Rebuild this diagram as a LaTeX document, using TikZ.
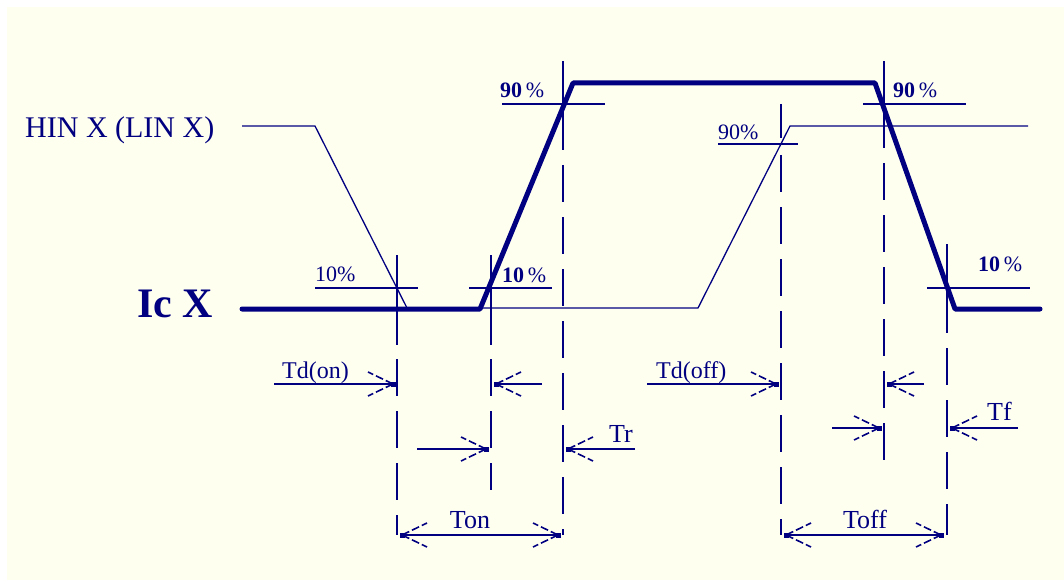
\documentclass[tikz,border=0pt]{standalone}
\usepackage{fontspec}
\setmainfont{Liberation Serif}
\definecolor{ink}{RGB}{0,0,128}
\definecolor{cream}{RGB}{255,255,240}
\newcommand\fsz[1]{\fontsize{#1}{#1}\selectfont}
\begin{document}
\begin{tikzpicture}[x=1pt,y=-1pt,
  wave/.style={draw=ink, line width=5pt, line join=round, line cap=round},
  sig/.style={draw=ink, line width=1.3pt},
  lvl/.style={draw=ink, line width=1.7pt},
  dashv/.style={draw=ink, line width=1.7pt, dash pattern=on 37pt off 15pt},
  dim/.style={draw=ink, line width=1.7pt},
  barbline/.style={draw=ink, line width=1.6pt, dash pattern=on 8pt off 3pt},
  lbl/.style={text=ink, inner sep=0pt, anchor=base west},
  clbl/.style={text=ink, inner sep=0pt, anchor=base},
  barb/.pic={
    \draw[barbline] (0,0) -- (-25,-12);
    \draw[barbline] (0,0) -- (-25,12);
    \fill[ink] (-2.5,-2.5) rectangle (2.5,2.5);
  }]
\useasboundingbox (0,0) rectangle (1064,580);
\fill[white] (0,0) rectangle (1064,580);
\fill[cream] (7,7) rectangle (1064,580);

% ---- input signal HIN X
\coordinate (h0) at (242,126);
\coordinate (h1) at (315,126);
\coordinate (h2) at (407,308);
\coordinate (h3) at (698,308);
\coordinate (h4) at (790,126);
\coordinate (h5) at (1028,126);
\draw[sig] (h0) -- (h1) -- (h2) -- (h3) -- (h4) -- (h5);

% ---- level marks
\draw[lvl] (315,288) -- (418,288);   % 10% of HIN
\draw[lvl] (469,288) -- (552,288);   % 10% rise
\draw[lvl] (502,104) -- (605,104);   % 90% rise
\draw[lvl] (718,144) -- (798,144);   % 90% HIN
\draw[lvl] (863,104) -- (966,104);   % 90% fall
\draw[lvl] (927,288) -- (1030,288);  % 10% fall

% ---- vertical guide lines (solid start, then dashed)
\draw[lvl] (397,255) -- (397,345);  \draw[dashv] (397,359) -- (397,535);
\draw[lvl] (491,255) -- (491,345);  \draw[dashv] (491,359) -- (491,490);
\draw[lvl] (563,61)  -- (563,150);  \draw[dashv] (563,165) -- (563,535);
\draw[lvl] (781,104) -- (781,138);  \draw[dashv] (781,155) -- (781,535);
\draw[lvl] (884,61)  -- (884,148);  \draw[dashv] (884,163) -- (884,460);
\draw[lvl] (947,244) -- (947,333);  \draw[dashv] (947,348) -- (947,535);

% ---- output current Ic X
\coordinate (c0) at (242,309);
\coordinate (c1) at (480,309);
\coordinate (c2) at (573,83);
\coordinate (c3) at (875,83);
\coordinate (c4) at (955,309);
\coordinate (c5) at (1040,309);
\draw[wave] (c0) -- (c1) -- (c2) -- (c3) -- (c4) -- (c5);

% ---- labels
\node[lbl, font=\fsz{30}] (hin) at (25,138) {HIN X (LIN X)};
\node[lbl, font=\fsz{42}\bfseries] (ic) at (137,317) {Ic X};
\node[lbl, font=\fsz{22}] (p10a) at (315,281) {10\%};
\node[lbl, font=\fsz{22}] (p10b) at (502,282) {\textbf{10}\,\%};
\node[lbl, font=\fsz{22}] (p90a) at (500,98) {\textbf{90}\,\%};
\node[lbl, font=\fsz{22}] (p90h) at (718,140) {90\%};
\node[lbl, font=\fsz{22}] (p90b) at (893,98) {\textbf{90}\,\%};
\node[lbl, font=\fsz{22}] (p10c) at (978,271) {\textbf{10}\,\%};

\node[lbl, font=\fsz{24}] (tdon) at (282,378) {Td(on)};
\node[lbl, font=\fsz{24}] (tdoff) at (656,378) {Td(off)};
\node[lbl, font=\fsz{26}] (tr) at (609,442) {Tr};
\node[lbl, font=\fsz{26}] (tf) at (987,420) {Tf};
\node[clbl, font=\fsz{26}] (ton) at (470,528) {Ton};
\node[clbl, font=\fsz{26}] (toff) at (865,528) {Toff};

% ---- dimension arrows
\coordinate (a1s) at (274,384); \coordinate (a1t) at (393,384);
\draw[dim] (a1s) -- (a1t); \pic at (a1t) {barb};
\coordinate (a2s) at (542,384); \coordinate (a2t) at (496,384);
\draw[dim] (a2s) -- (a2t); \pic[rotate=180] at (a2t) {barb};
\coordinate (a3s) at (417,449); \coordinate (a3t) at (486,449);
\draw[dim] (a3s) -- (a3t); \pic at (a3t) {barb};
\coordinate (a4s) at (635,449); \coordinate (a4t) at (568,449);
\draw[dim] (a4s) -- (a4t); \pic[rotate=180] at (a4t) {barb};
\coordinate (a5l) at (402,535); \coordinate (a5r) at (558,535);
\draw[dim] (a5l) -- (a5r); \pic[rotate=180] at (a5l) {barb}; \pic at (a5r) {barb};

\coordinate (b1s) at (647,384); \coordinate (b1t) at (776,384);
\draw[dim] (b1s) -- (b1t); \pic at (b1t) {barb};
\coordinate (b2s) at (924,384); \coordinate (b2t) at (889,384);
\draw[dim] (b2s) -- (b2t); \pic[rotate=180] at (b2t) {barb};
\coordinate (b3s) at (832,428); \coordinate (b3t) at (879,428);
\draw[dim] (b3s) -- (b3t); \pic at (b3t) {barb};
\coordinate (b4s) at (1018,428); \coordinate (b4t) at (952,428);
\draw[dim] (b4s) -- (b4t); \pic[rotate=180] at (b4t) {barb};
\coordinate (b5l) at (786,535); \coordinate (b5r) at (941,535);
\draw[dim] (b5l) -- (b5r); \pic[rotate=180] at (b5l) {barb}; \pic at (b5r) {barb};
\end{tikzpicture}
\end{document}
